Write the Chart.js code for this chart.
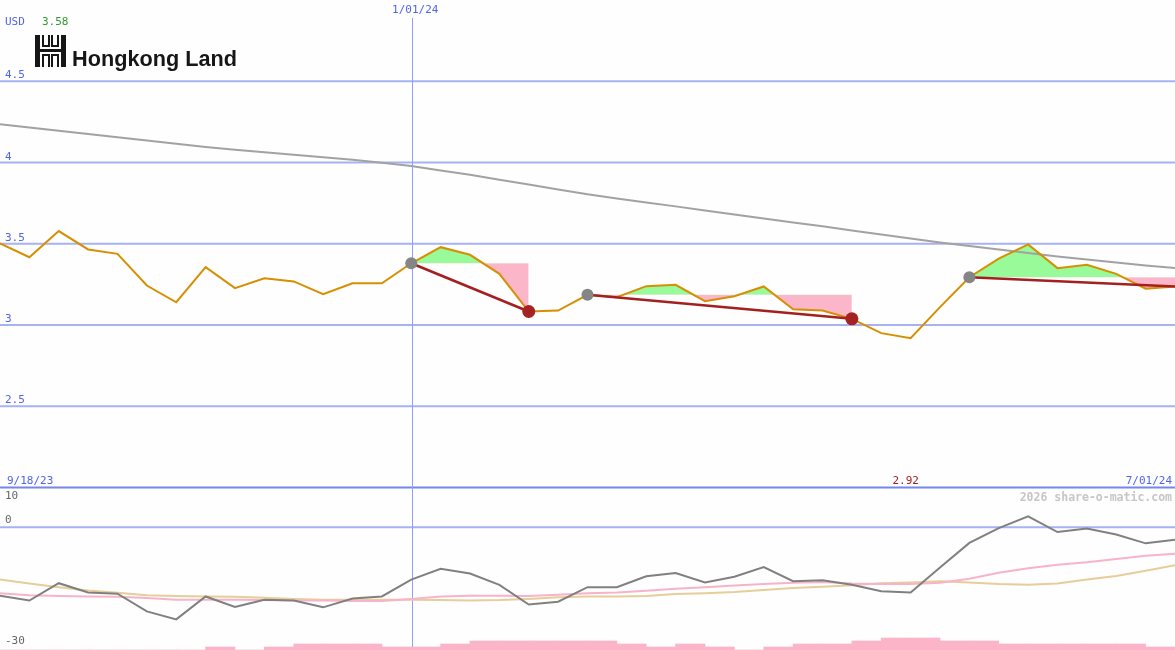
<!DOCTYPE html>
<html lang="en">
<head>
  <meta charset="UTF-8">
  <title>Hongkong Land - share-o-matic</title>
  <script src="https://cdn.jsdelivr.net/npm/chart.js"></script>
  <style>
    html, body {
      margin: 0;
      padding: 0;
      background: #fdfefd;
    }
    canvas {
      display: block;
    }
  </style>
</head>
<body>
  <canvas id="chart" width="1175" height="650"></canvas>
  <script>
    // weekly closes, 9/25/23 .. 7/01/24
    const weeks = ['9/25/23', '10/02/23', '10/09/23', '10/16/23', '10/23/23', '10/30/23', '11/06/23', '11/13/23',
      '11/20/23', '11/27/23', '12/04/23', '12/11/23', '12/18/23', '12/25/23', '1/01/24', '1/08/24', '1/15/24',
      '1/22/24', '1/29/24', '2/05/24', '2/12/24', '2/19/24', '2/26/24', '3/04/24', '3/11/24', '3/18/24',
      '3/25/24', '4/01/24', '4/08/24', '4/15/24', '4/22/24', '4/29/24', '5/06/24', '5/13/24', '5/20/24',
      '5/27/24', '6/03/24', '6/10/24', '6/17/24', '6/24/24', '7/01/24'];

    const price = [3.502, 3.417, 3.578, 3.465, 3.438, 3.243, 3.140, 3.356, 3.227, 3.288,
      3.268, 3.190, 3.257, 3.257, 3.380, 3.479, 3.432, 3.315, 3.083, 3.089,
      3.186, 3.171, 3.239, 3.247, 3.147, 3.177, 3.237, 3.097, 3.089, 3.038,
      2.950, 2.919, 3.110, 3.294, 3.408, 3.496, 3.350, 3.371, 3.315, 3.223,
      3.237];

    const avg = [4.235, 4.215, 4.195, 4.176, 4.156, 4.136, 4.115, 4.096, 4.079, 4.063,
      4.048, 4.033, 4.017, 3.999, 3.979, 3.951, 3.924, 3.894, 3.865, 3.834,
      3.804, 3.779, 3.754, 3.730, 3.705, 3.680, 3.656, 3.631, 3.607, 3.582,
      3.557, 3.533, 3.508, 3.486, 3.465, 3.443, 3.422, 3.403, 3.385, 3.366,
      3.350];

    // lower panel
    const osc = [-17.0, -18.2, -13.9, -16.2, -16.5, -20.9, -22.9, -17.2, -19.8, -18.0,
      -18.2, -19.9, -17.7, -17.2, -13.0, -10.3, -11.5, -14.3, -19.2, -18.5,
      -14.9, -14.9, -12.2, -11.4, -13.7, -12.3, -9.9, -13.4, -13.2, -14.3,
      -15.9, -16.2, -10.0, -3.9, -0.2, 2.7, -1.2, -0.3, -1.8, -4.0,
      -3.1];
    const oscPink = [-16.4, -16.9, -17.1, -17.2, -17.3, -17.6, -18.0, -18.0, -18.0, -18.1,
      -18.2, -18.2, -18.3, -18.3, -17.8, -17.2, -17.0, -17.0, -17.1, -16.8,
      -16.4, -16.2, -15.8, -15.3, -14.9, -14.5, -14.1, -13.8, -13.6, -14.0,
      -14.1, -14.1, -13.8, -12.8, -11.3, -10.2, -9.3, -8.7, -7.9, -7.1,
      -6.6];
    const oscTan = [-13.0, -14.0, -14.9, -15.7, -16.3, -16.9, -17.1, -17.2, -17.3, -17.5,
      -17.8, -18.0, -18.0, -18.0, -18.0, -18.1, -18.2, -18.1, -17.8, -17.4,
      -17.2, -17.2, -17.1, -16.6, -16.4, -16.1, -15.6, -15.1, -14.8, -14.4,
      -13.9, -13.7, -13.4, -13.7, -14.1, -14.3, -14.0, -13.0, -12.1, -10.8,
      -9.45];
    // one bar per week interval
    const volLevels = [0, 0, 0, 0, 0, 0, 0, 1, 0, 1,
      2, 2, 2, 1, 1, 2, 3, 3, 3, 3,
      3, 2, 1, 2, 1, 0, 1, 2, 2, 3,
      4, 4, 3, 3, 2, 2, 2, 2, 2, 1];

    const trendStarts = [14, 20, 33];
    const trendEnds = [18, 29, 40];

    const priceTicks = [2.5, 3, 3.5, 4, 4.5];
    const priceTickLabels = ['2.5', '3', '3.5', '4', '4.5'];
    const oscTicks = [10, 0, -30];
    const dateLabels = ['9/18/23', '1/01/24', '7/01/24'];
    const panelSplit = 2;

    const blue = '#5163f0';
    const gridBlue = '#a7b2f5';
    const markIndex = weeks.indexOf(dateLabels[1]);

    const pts = (arr, from) => arr.map((v, i) => ({ x: i + (from || 0), y: v }));

    function hline(ctx, area, py) {
      ctx.beginPath();
      ctx.moveTo(area.left, py);
      ctx.lineTo(area.right, py);
      ctx.stroke();
    }

    const panels = {
      id: 'panels',
      beforeDraw(chart) {
        const { ctx, chartArea: a, scales } = chart;
        ctx.save();
        ctx.fillStyle = '#fdfefd';
        ctx.fillRect(0, 0, chart.width, chart.height);
        ctx.lineWidth = 2;
        ctx.strokeStyle = gridBlue;
        priceTicks.forEach(t => hline(ctx, a, scales.y.getPixelForValue(t)));
        hline(ctx, a, scales.yo.getPixelForValue(0));
        ctx.strokeStyle = '#7786ec';
        hline(ctx, a, scales.y.getPixelForValue(panelSplit));
        ctx.lineWidth = 1;
        ctx.strokeStyle = '#8f9ef8';
        const mx = Math.round(scales.x.getPixelForValue(markIndex)) + 1.5;
        ctx.beginPath();
        ctx.moveTo(mx, 18);
        ctx.lineTo(mx, a.bottom);
        ctx.stroke();
        ctx.restore();
      },
      afterDraw(chart) {
        const { ctx, scales } = chart;
        const x = scales.x, y = scales.y, yo = scales.yo;
        ctx.save();
        ctx.font = '11px "DejaVu Sans Mono", monospace';
        ctx.textAlign = 'left';
        ctx.fillStyle = blue;
        ctx.fillText('USD', 5, 25);
        ctx.fillStyle = '#2f9a2f';
        ctx.fillText(Math.max(...price).toFixed(2), 42, 25);
        ctx.fillStyle = blue;
        priceTicks.forEach((t, i) => ctx.fillText(priceTickLabels[i], 5, y.getPixelForValue(t) - 3));

        const base = y.getPixelForValue(panelSplit) - 4;
        ctx.fillText(dateLabels[0], 7, base);
        ctx.textAlign = 'right';
        ctx.fillText(dateLabels[2], chart.width - 3, base);
        ctx.textAlign = 'center';
        ctx.fillText(dateLabels[1], x.getPixelForValue(markIndex) + 4, 13);

        const lo = Math.min(...price);
        ctx.fillStyle = '#a51e1e';
        ctx.fillText(lo.toFixed(2), x.getPixelForValue(price.indexOf(lo)) - 5, base);

        ctx.textAlign = 'left';
        ctx.fillStyle = '#666666';
        oscTicks.forEach(t => ctx.fillText(String(t), 5, yo.getPixelForValue(t) + (t > 0 ? 12 : -4)));

        ctx.font = 'bold 11.5px "DejaVu Sans Mono", monospace';
        ctx.textAlign = 'right';
        ctx.fillStyle = '#c6c6c6';
        ctx.fillText('2026 share-o-matic.com', chart.width - 3, base + 17);

        // logo
        ctx.fillStyle = '#161616';
        [[35, 35, 5, 32], [61, 35, 5, 32],
         [42, 35, 2, 12], [48, 35, 2, 12], [42, 45, 8, 2],
         [51, 35, 2, 12], [57, 35, 2, 12], [51, 45, 8, 2],
         [35, 49, 31, 3],
         [42, 54, 8, 2], [42, 54, 2, 13], [48, 54, 2, 13],
         [51, 54, 8, 2], [51, 54, 2, 13], [57, 54, 2, 13]
        ].forEach(r => ctx.fillRect(r[0], r[1], r[2], r[3]));
        ctx.textAlign = 'left';
        ctx.font = 'bold 22px "Liberation Sans", Arial, sans-serif';
        ctx.fillText('Hongkong Land', 72, 66, 165);
        ctx.restore();
      }
    };

    const datasets = [];

    // green / pink areas against the level of each trend start
    trendStarts.forEach((s, k) => {
      const e = trendEnds[k];
      datasets.push({
        type: 'line',
        data: pts(price.slice(s, e + 1), s),
        yAxisID: 'y',
        borderWidth: 0,
        borderColor: 'rgba(0,0,0,0)',
        pointRadius: 0,
        tension: 0,
        fill: { target: { value: price[s] }, above: '#98fa98', below: '#fbb6ca' },
        order: 10
      });
    });

    datasets.push({
      type: 'bar',
      data: volLevels.map((v, i) => ({ x: i + 0.5, y: v })),
      yAxisID: 'yv',
      backgroundColor: '#fbb4c8',
      borderWidth: 0,
      barPercentage: 1,
      categoryPercentage: 1,
      order: 20
    });

    [[oscTan, '#e6cd9a'], [oscPink, '#f9b3c8'], [osc, '#808080']].forEach(([arr, col], i) => {
      datasets.push({
        type: 'line', data: pts(arr), yAxisID: 'yo',
        borderColor: col, borderWidth: 2, pointRadius: 0, tension: 0, fill: false, order: 9 - i
      });
    });

    datasets.push({
      type: 'line', data: pts(avg), yAxisID: 'y',
      borderColor: '#a2a2a2', borderWidth: 2, pointRadius: 0, tension: 0, fill: false, order: 5
    });
    datasets.push({
      type: 'line', data: pts(price), yAxisID: 'y',
      borderColor: '#d68f02', borderWidth: 2, pointRadius: 0, tension: 0, fill: false, order: 3
    });

    trendStarts.forEach((s, k) => {
      const e = trendEnds[k];
      datasets.push({
        type: 'line',
        data: [{ x: s, y: price[s] }, { x: e, y: price[e] }],
        yAxisID: 'y',
        borderColor: '#a42020', borderWidth: 2.5, pointRadius: 0, fill: false, order: 2
      });
    });

    datasets.push({
      type: 'line',
      data: trendStarts.map(i => ({ x: i, y: price[i] })),
      yAxisID: 'y', showLine: false,
      pointRadius: 6, pointBackgroundColor: '#858585', pointBorderWidth: 0, order: 1
    });
    datasets.push({
      type: 'line',
      data: trendEnds.filter(i => i < price.length - 1).map(i => ({ x: i, y: price[i] })),
      yAxisID: 'y', showLine: false,
      pointRadius: 6.5, pointBackgroundColor: '#a52222', pointBorderWidth: 0, order: 0
    });

    new Chart(document.getElementById('chart'), {
      type: 'line',
      data: { datasets },
      options: {
        responsive: false,
        devicePixelRatio: 1,
        animation: false,
        events: [],
        layout: { padding: 0, autoPadding: false },
        plugins: { legend: { display: false }, tooltip: { enabled: false } },
        scales: {
          x: { type: 'linear', min: 0, max: weeks.length - 1, offset: false, display: false },
          y: { type: 'linear', min: 1, max: 5, display: false },
          yo: { type: 'linear', min: -30.5, max: 131, display: false },
          yv: { type: 'linear', min: 0, max: 650 / 3, display: false }
        }
      },
      plugins: [panels]
    });
  </script>
</body>
</html>
